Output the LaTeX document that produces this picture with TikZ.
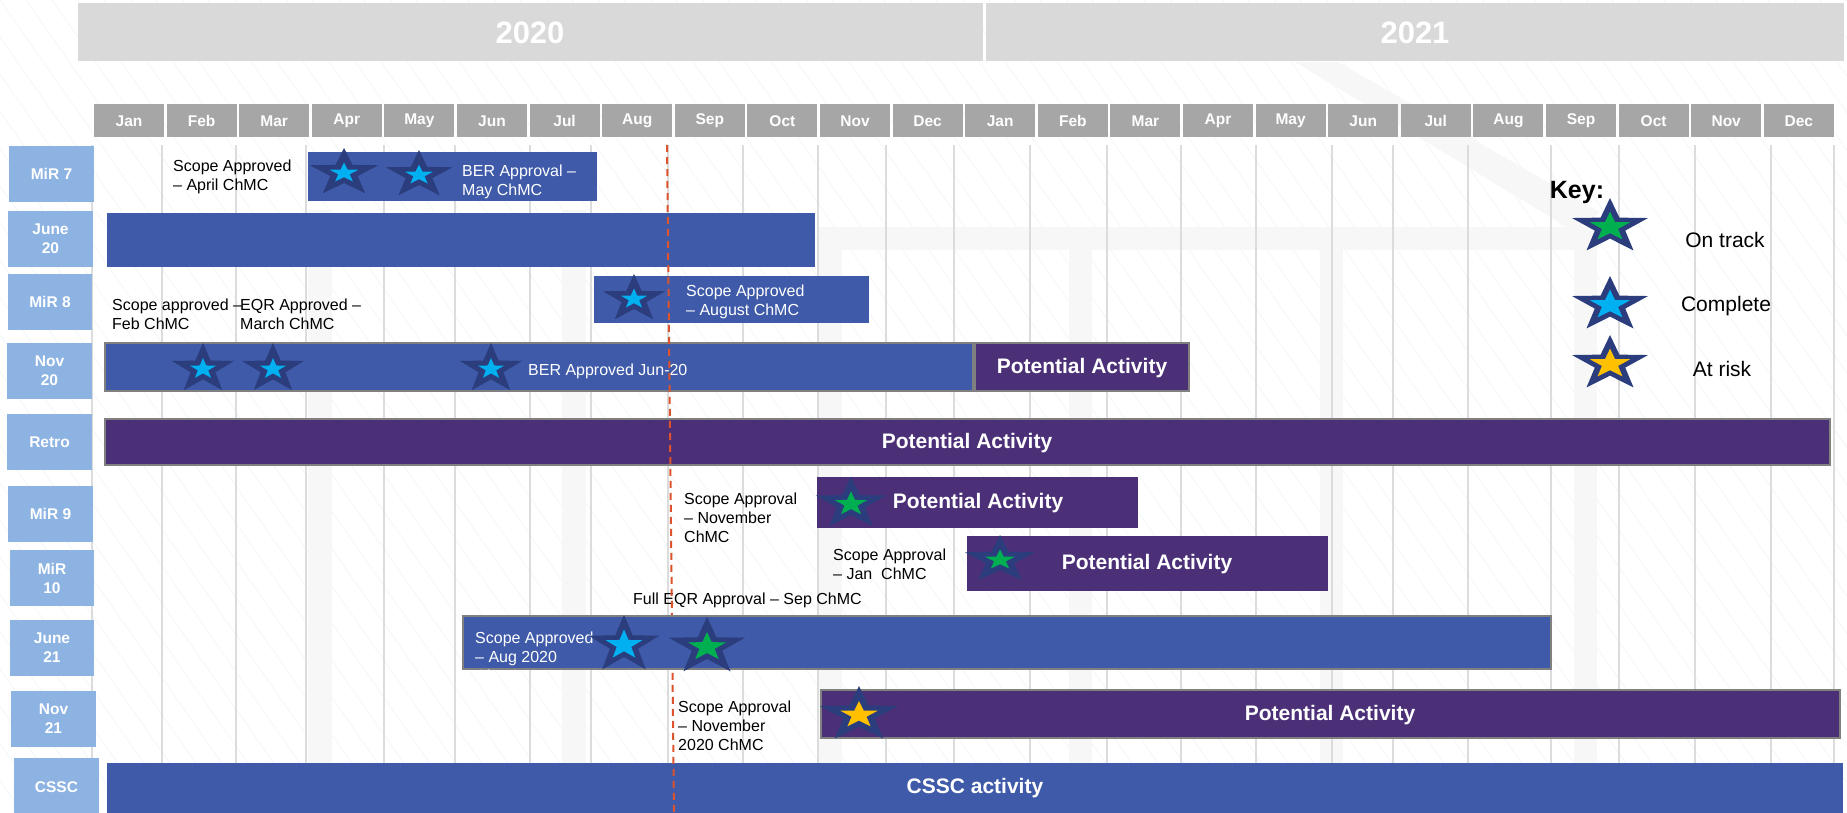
\documentclass[tikz,border=0pt]{standalone}
\usepackage{fontspec}
\setmainfont{Liberation Sans}
\definecolor{yearbar}{HTML}{D9D9D9}
\definecolor{monthhead}{HTML}{A6A6A6}
\definecolor{rowlab}{HTML}{8DB3E2}
\definecolor{barblue}{HTML}{3E5AA8}
\definecolor{barpurple}{HTML}{4B3078}
\definecolor{starnavy}{HTML}{2B3D7C}
\definecolor{starcyan}{HTML}{00B0F0}
\definecolor{stargreen}{HTML}{00B050}
\definecolor{staryellow}{HTML}{FFC000}
\definecolor{barborder}{HTML}{808080}
\definecolor{gridc}{HTML}{DCDCDC}
\definecolor{hatchc}{HTML}{EEF6F7}
\definecolor{wmark}{HTML}{F7F7F7}
\definecolor{todayc}{HTML}{DD532E}
\tikzset{
  pics/mstar/.style n args={2}{code={
    \fill[starnavy] (270:1) -- (306:0.4) -- (342:1) -- (18:0.4) -- (54:1) -- (90:0.4) -- (126:1) -- (162:0.4) -- (198:1) -- (234:0.4) -- cycle;
    \begin{scope}[scale=#2]
      \fill[#1] (270:1) -- (306:0.4) -- (342:1) -- (18:0.4) -- (54:1) -- (90:0.4) -- (126:1) -- (162:0.4) -- (198:1) -- (234:0.4) -- cycle;
    \end{scope}
  }}
}
\begin{document}
\begin{tikzpicture}[x=1pt, y=-1pt,
  yeartxt/.style={text=white, font=\bfseries\fontsize{31}{36}\selectfont, inner sep=0pt},
  monthtxt/.style={text=white, font=\bfseries\fontsize{15.5}{18}\selectfont, inner sep=0pt},
  rowtxt/.style={text=white, font=\bfseries\fontsize{15.5}{19}\selectfont, align=center, inner sep=0pt},
  bigtxt/.style={text=white, font=\bfseries\fontsize{21}{25}\selectfont, inner sep=0pt},
  note/.style={text=black, font=\fontsize{16}{19}\selectfont, align=left, anchor=west, inner sep=0pt},
  wnote/.style={note, text=white},
  keytxt/.style={text=black, font=\fontsize{21}{25}\selectfont, inner sep=0pt},
  keyhead/.style={text=black, font=\bfseries\fontsize{25}{29}\selectfont, inner sep=0pt},
  bordered/.style={draw=barborder, line width=2.5pt},
  gridline/.style={gridc, line width=1.3pt},
  todayline/.style={todayc, line width=2pt, dash pattern=on 7pt off 5pt},
]
\useasboundingbox (0,0) rectangle (1847,812);
\fill[white] (0,0) rectangle (1847,812);

% faint background hatch
\begin{scope}
  \clip (0,0) rectangle (1847,812);
  \foreach \i in {-24,...,72} { \draw[hatchc, line width=0.6pt] (\i*26,0) -- ++(568,812); }
  % faint watermark
  \fill[wmark] (308,210) rectangle (332,763);
  \fill[wmark] (562,210) rectangle (586,763);
  \fill[wmark] (819,227) rectangle (1598,250);
  \foreach \wx in {819,1069,1320,1574} { \fill[wmark] (\wx,250) rectangle ++(23,513); }
  \fill[wmark] (1295,62) -- (1338,62) -- (1600,212) -- (1575,232) -- cycle;
\end{scope}

% grid lines
\foreach \gx in {92,162,236,306,384,455,530,591,668,743,818,886,954,1030,1107,1181,1256,1332,1393,1468,1551,1619,1695,1771,1834}
  { \draw[gridline] (\gx,145) -- (\gx,812); }

% year bars
\fill[yearbar] (78,3) rectangle (983,61);
\fill[yearbar] (986,3) rectangle (1844,61);
\node[yeartxt] (y2020) at (530,33) {2020};
\node[yeartxt] (y2021) at (1415,33) {2021};

% month headers
\foreach \m [count=\i from 0] in {Jan,Feb,Mar,Apr,May,Jun,Jul,Aug,Sep,Oct,Nov,Dec,Jan,Feb,Mar,Apr,May,Jun,Jul,Aug,Sep,Oct,Nov,Dec} {
  \pgfmathsetmacro\xl{94+\i*72.6}
  \fill[monthhead] (\xl,104) rectangle ++(70,33);
  \node[monthtxt] (m\i) at (\xl+35,121) {\m};
}

% row labels
\fill[rowlab] (9,146) rectangle (94,202);   \node[rowtxt] (lmir7) at (51.5,174) {MiR 7};
\fill[rowlab] (8,211) rectangle (93,267);   \node[rowtxt] (ljun20) at (50.5,239) {June\\20};
\fill[rowlab] (8,274) rectangle (92,330);   \node[rowtxt] (lmir8) at (50,302) {MiR 8};
\fill[rowlab] (7,343) rectangle (92,399);   \node[rowtxt] (lnov20) at (49.5,371) {Nov\\20};
\fill[rowlab] (7,414) rectangle (92,470);   \node[rowtxt] (lretro) at (49.5,442) {Retro};
\fill[rowlab] (8,486) rectangle (93,542);   \node[rowtxt] (lmir9) at (50.5,514) {MiR 9};
\fill[rowlab] (10,550) rectangle (94,606);  \node[rowtxt] (lmir10) at (52,578) {MiR\\10};
\fill[rowlab] (10,620) rectangle (94,676);  \node[rowtxt] (ljun21) at (52,648) {June\\21};
\fill[rowlab] (11,691) rectangle (96,747);  \node[rowtxt] (lnov21) at (53.5,719) {Nov\\21};
\fill[rowlab] (14,758) rectangle (99,816);  \node[rowtxt] (lcssc) at (56.5,787) {CSSC};

% bars
\fill[barblue] (308,152) rectangle (597,201);
\fill[barblue] (107,213) rectangle (815,267);
\fill[barblue] (594,276) rectangle (869,323);
\filldraw[barblue, bordered] (105,343) rectangle (973,391);
\filldraw[barpurple, bordered] (975,343) rectangle (1189,391);
\filldraw[barpurple, bordered] (105,419) rectangle (1830,465);
\fill[barpurple] (817,477) rectangle (1138,528);
\fill[barpurple] (967,536) rectangle (1328,591);
\filldraw[barpurple, bordered] (821,690) rectangle (1840,738);
\fill[barblue] (107,763) rectangle (1843,816);

% bar texts
\node[wnote] (ber7) at (462,181.5) {BER Approval --\\May ChMC};
\node[wnote] (scope8) at (686,301.5) {Scope Approved\\-- August ChMC};
\node[wnote] (ber20) at (528,371) {BER Approved Jun-20};
\node[bigtxt] (pa20) at (1082,368) {Potential Activity};
\node[bigtxt] (paretro) at (967,443) {Potential Activity};
\node[bigtxt] (pa9) at (978,503) {Potential Activity};
\node[bigtxt] (pa10) at (1147,564) {Potential Activity};
\node[bigtxt] (pa21) at (1330,715) {Potential Activity};
\node[bigtxt] (cssc) at (975,788) {CSSC activity};

% black annotations
\node[note] (scope7) at (173,176.5) {Scope Approved\\-- April ChMC};
\node[note] (scopefeb) at (112,314.5) {Scope approved --\\Feb ChMC};
\node[note] (eqrmar) at (240,314.5) {EQR Approved --\\March ChMC};
\node[note] (scope9) at (684,518) {Scope Approval\\-- November\\ChMC};
\node[note] (scope10) at (833,564) {Scope Approval\\-- Jan\ \ ChMC};
\node[note] (fulleqr) at (633,600) {Full EQR Approval -- Sep ChMC};
\node[note] (scope21) at (678,725.5) {Scope Approval\\-- November\\2020 ChMC};

% today line
\coordinate (todayT) at (667,145);
\coordinate (todayB) at (674,812);
\draw[todayline] (todayT) -- (todayB);

% June 21 bar (drawn over the today line)
\filldraw[barblue, bordered] (463,616) rectangle (1551,669);
\begin{scope}
  \clip (463,600) rectangle (1551,674);
  \node[wnote] (scopej21) at (475,657) {Scope Approved\\-- Aug 2020\\ChMC};
\end{scope}

% stars
\pic[xscale=36, yscale=25] at (344,173) {mstar={starcyan}{0.42}};
\pic[xscale=35, yscale=25] at (419,175) {mstar={starcyan}{0.42}};
\pic[xscale=32.6, yscale=26] at (203,369) {mstar={starcyan}{0.42}};
\pic[xscale=32.6, yscale=26] at (273,369) {mstar={starcyan}{0.42}};
\pic[xscale=32.6, yscale=26] at (491,369) {mstar={starcyan}{0.42}};
\pic[xscale=32.6, yscale=25] at (634,299) {mstar={starcyan}{0.42}};
\pic[xscale=37, yscale=30] at (624,645) {mstar={starcyan}{0.52}};
\pic[xscale=40, yscale=30] at (707,647) {mstar={stargreen}{0.5}};
\pic[xscale=37, yscale=27.5] at (851,504) {mstar={stargreen}{0.46}};
\pic[xscale=37, yscale=25] at (1000,560) {mstar={stargreen}{0.42}};
\pic[xscale=41, yscale=29] at (859,715) {mstar={staryellow}{0.48}};

% key
\node[keyhead] (keyh) at (1577,192) {Key:};
\pic[xscale=40, yscale=29] at (1610,227) {mstar={stargreen}{0.53}};
\pic[xscale=40, yscale=29] at (1610,305) {mstar={starcyan}{0.53}};
\pic[xscale=40, yscale=29] at (1610,364) {mstar={staryellow}{0.53}};
\node[keytxt] (kon) at (1725,240) {On track};
\node[keytxt] (kcomp) at (1726,306) {Complete};
\node[keytxt] (krisk) at (1722,369) {At risk};
\end{tikzpicture}
\end{document}
